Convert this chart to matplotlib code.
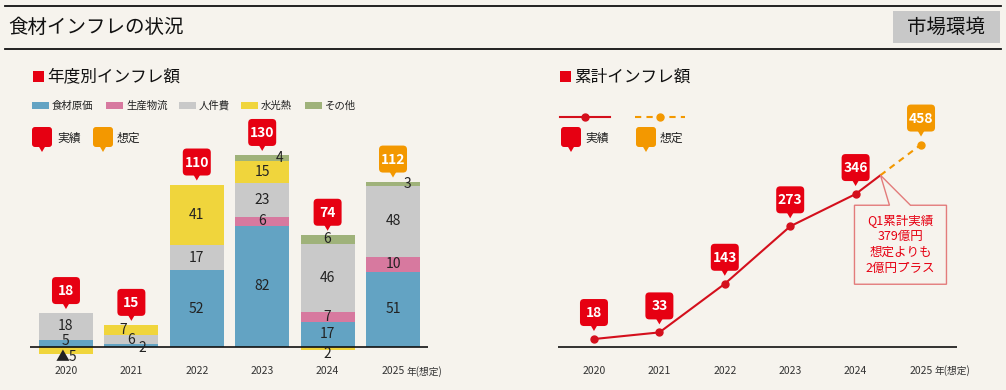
import matplotlib
matplotlib.use("Agg")
import matplotlib.pyplot as plt
from matplotlib.patches import FancyBboxPatch, Polygon, Rectangle, PathPatch
from matplotlib.lines import Line2D
from matplotlib.path import Path
from matplotlib.transforms import Affine2D
import numpy as np

plt.rcParams['font.family'] = ['Noto Sans CJK JP', 'DejaVu Sans']

# data
years = ['2020', '2021', '2022', '2023', '2024', '2025']
categories = ['食材原価', '生産物流', '人件費', '水光熱', 'その他']
food = [5, 2, 52, 82, 17, 51]
logistics = [0, 0, 0, 6, 7, 10]
labor = [18, 6, 17, 23, 46, 48]
utilities = [-5, 7, 41, 15, -2, 0]
other = [0, 0, 0, 4, 6, 3]
yearly_total = [18, 15, 110, 130, 74, 112]
cumulative = [18, 33, 143, 273, 346, 458]
q1_note = ['Q1累計実績', '379億円', '想定よりも', '2億円プラス']

BG = '#f6f3ed'
RED = '#e60012'
ORANGE = '#f39800'
LINE_RED = '#d40f1c'
cat_colors = ['#63a3c3', '#d7799f', '#c9c9c9', '#f0d53c', '#9fb27a']

W, H = 1006, 390
fig = plt.figure(figsize=(W / 100, H / 100), dpi=100, facecolor=BG)
# pixel coords, y measured from the top
px = Affine2D().scale(1 / W, -1 / H).translate(0, 1) + fig.transFigure


def to_px(ax, x, y):
    dx, dy = ax.transData.transform((x, y))
    return dx, H - dy


def callout(cx, tip_y, label, color, w=28, h=27, fs=10, r=4):
    bottom = tip_y - 5
    fig.add_artist(FancyBboxPatch((cx - w / 2 + r, bottom - h + r), w - 2 * r, h - 2 * r,
                                  boxstyle=f"round,pad={r}", transform=px,
                                  fc=color, ec='none'))
    fig.add_artist(Polygon([(cx - 3.5, bottom - 1), (cx + 3.5, bottom - 1), (cx, tip_y)],
                           closed=True, transform=px, fc=color, ec='none'))
    if label:
        fig.text(cx, bottom - h / 2 + 0.5, label, transform=px, ha='center', va='center',
                 color='white', fontsize=fs, fontweight='bold')


# header
for y in (6, 49):
    fig.add_artist(Line2D([5, 1001], [y, y], transform=px, color='#111111', lw=1.3))
fig.text(8, 27, '食材インフレの状況', transform=px, fontsize=14, va='center', color='#111111')
fig.add_artist(Rectangle((893, 11), 107, 32, transform=px, fc='#c8c8c8', ec='none'))
fig.text(946, 27.5, '市場環境', transform=px, fontsize=14, va='center', ha='center',
         color='#111111')

# section titles
for x0, title in ((33, '年度別インフレ額'), (560, '累計インフレ額')):
    fig.add_artist(Rectangle((x0, 71), 11, 11, transform=px, fc=RED, ec='none'))
    fig.text(x0 + 14, 77, title, transform=px, fontsize=12, va='center', color='#111111')

# category legend
for x0, name, c in zip([32, 106, 179, 241, 305], categories, cat_colors):
    fig.add_artist(Rectangle((x0, 102), 17, 7, transform=px, fc=c, ec='none'))
    fig.text(x0 + 20, 105.5, name, transform=px, fontsize=7.5, va='center', color='#222222')

# callout legends
for cx, tx, c, name in ((42, 57, RED, '実績'), (103, 117, ORANGE, '想定'),
                        (571, 585, RED, '実績'), (646, 660, ORANGE, '想定')):
    callout(cx, 152, '', c, w=20, h=20, r=3)
    fig.text(tx, 138, name, transform=px, fontsize=8.5, va='center', color='#222222')

fig.add_artist(Line2D([560, 610], [117, 117], transform=px, color=LINE_RED, lw=1.5))
fig.add_artist(Line2D([585], [117], transform=px, color=LINE_RED, marker='o', ms=5))
fig.add_artist(Line2D([635, 685], [117, 117], transform=px, color=ORANGE, lw=1.5,
                      dashes=(3, 2.5)))
fig.add_artist(Line2D([660], [117], transform=px, color=ORANGE, marker='o', ms=5))

# ---- left: yearly stacked bars ----
ax1 = fig.add_axes([30 / W, 10 / H, 398 / W, 280 / H])
ax1.set_xlim(-0.55, 5.535)
ax1.set_ylim(-22.3, 167.2)
ax1.axis('off')
ax1.patch.set_alpha(0)
ax1.axhline(0, color='#111111', lw=1.2, zorder=3)

x = np.arange(len(years))
series = [food, logistics, labor, utilities, other]
pos_base = np.zeros(len(years))
neg_base = np.zeros(len(years))
# special label tweaks (pixel offsets / replacement text)
label_tweaks = {(0, 0): ('5', 0, 2), (0, 3): ('▲5', 0, -6), (1, 0): ('2', 11, -2),
                (1, 3): ('7', -8, 0), (3, 4): ('4', 17, 0), (4, 3): ('2', 0, -5),
                (5, 4): ('3', 14, 0)}
for si, (vals, c) in enumerate(zip(series, cat_colors)):
    vals = np.array(vals, dtype=float)
    bottoms = np.where(vals >= 0, pos_base, neg_base)
    ax1.bar(x, vals, 0.826, bottom=bottoms, color=c, zorder=2)
    for i, v in enumerate(vals):
        if v == 0:
            continue
        txt, dx, dy = label_tweaks.get((i, si), (str(int(abs(v))), 0, 0))
        ax1.annotate(txt, (i, bottoms[i] + v / 2), xytext=(dx, dy), textcoords='offset pixels',
                     ha='center', va='center', fontsize=10, color='#222222', zorder=4)
    pos_base += np.where(vals > 0, vals, 0)
    neg_base += np.where(vals < 0, vals, 0)

for i, (tot, top) in enumerate(zip(yearly_total, pos_base)):
    cx, ty = to_px(ax1, i, top)
    callout(cx, ty - 4, str(tot), ORANGE if i == len(years) - 1 else RED)

# ---- right: cumulative line ----
ax2 = fig.add_axes([558 / W, 10 / H, 399 / W, 280 / H])
ax2.set_xlim(-0.55, 5.55)
ax2.set_ylim(-74.7, 558.8)
ax2.axis('off')
ax2.patch.set_alpha(0)
ax2.axhline(0, color='#111111', lw=1.2, zorder=1)

q_frac = 0.38
qx = 4 + q_frac
qy = cumulative[4] + q_frac * (cumulative[5] - cumulative[4])
ax2.plot(x[:5], cumulative[:5], color=LINE_RED, lw=1.5, marker='o', ms=5, zorder=3)
ax2.plot([4, qx], [cumulative[4], qy], color=LINE_RED, lw=1.5, zorder=3)
ax2.plot([qx, 5], [qy, cumulative[5]], color=ORANGE, lw=1.5, dashes=(3, 2.5), zorder=3)
ax2.plot([5], [cumulative[5]], color=ORANGE, marker='o', ms=5, zorder=3)

for i, v in enumerate(cumulative):
    cx, ty = to_px(ax2, i, v)
    callout(cx, ty - 8, str(v), ORANGE if i == len(years) - 1 else RED)

# Q1 note bubble
ax_, ay_ = to_px(ax2, qx, qy)
bx0, bx1, by0, by1 = ax_ - 26, ax_ + 66, ay_ + 30, ay_ + 109
verts = [(bx0, by0), (ax_ + 9, by0), (ax_, ay_), (ax_ + 30, by0), (bx1, by0), (bx1, by1),
         (bx0, by1), (bx0, by0)]
codes = [Path.MOVETO] + [Path.LINETO] * 6 + [Path.CLOSEPOLY]
fig.add_artist(PathPatch(Path(verts, codes), transform=px, fc=BG, ec='#e37b7b', lw=1))
fig.text((bx0 + bx1) / 2, (by0 + by1) / 2, '\n'.join(q1_note), transform=px,
         ha='center', va='center', fontsize=9, color=RED, linespacing=1.3)

# year labels
for ax in (ax1, ax2):
    for i, yr in enumerate(years):
        ax.annotate(yr, (i, 0), xytext=(0, -24), textcoords='offset pixels',
                    ha='center', va='center', fontsize=7.5, color='#333333')
    ax.annotate('年(想定)', (len(years) - 1, 0), xytext=(14, -24), textcoords='offset pixels',
                ha='left', va='center', fontsize=7, color='#333333')

fig.savefig('out.png', dpi=100, facecolor=BG)
